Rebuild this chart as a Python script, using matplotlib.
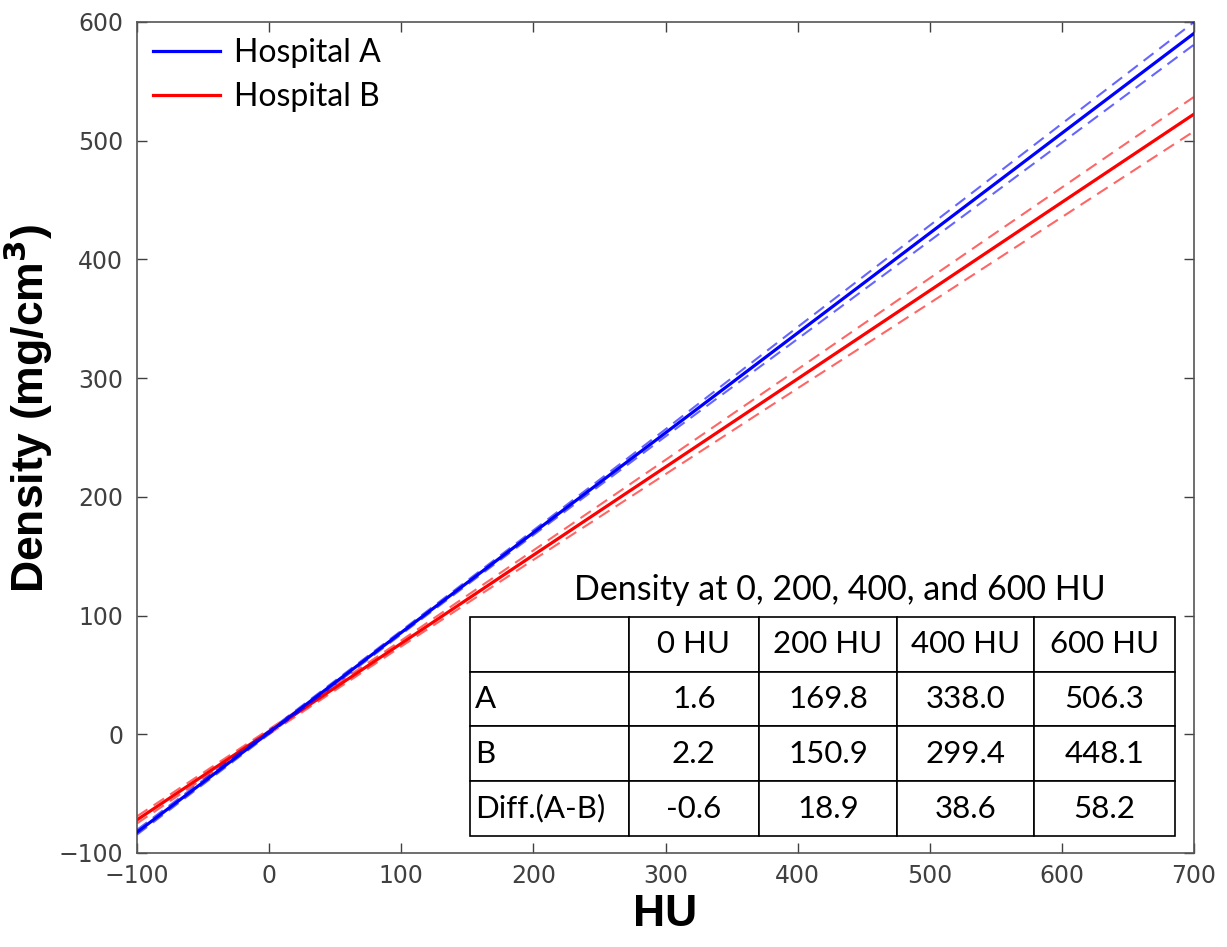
import matplotlib

matplotlib.use("Agg")
import matplotlib.pyplot as plt
import numpy as np

# fitted density lines and half-widths of the dashed bands
hu = [-100, 0, 100, 200, 300, 400, 500, 600, 700]
fit_a = [-82.5, 1.6, 85.7, 169.8, 253.9, 338.0, 422.1, 506.3, 590.4]
fit_b = [-72.1, 2.2, 76.5, 150.9, 225.1, 299.4, 373.7, 448.1, 522.4]
band_a = [2.0, 1.5, 1.5, 2.0, 3.0, 5.0, 6.5, 8.0, 9.5]
band_b = [3.0, 2.0, 2.5, 4.0, 6.0, 8.0, 10.5, 12.5, 14.5]

table_cols = ["", "0 HU", "200 HU", "400 HU", "600 HU"]
table_rows = ["A", "B", "Diff.(A-B)"]
table_vals = [
    ["1.6", "169.8", "338.0", "506.3"],
    ["2.2", "150.9", "299.4", "448.1"],
    ["-0.6", "18.9", "38.6", "58.2"],
]

fig = plt.figure(figsize=(12.27, 9.47), dpi=100)
ax = fig.add_axes([0.1117, 0.0993, 0.8614, 0.8775])

x = np.array(hu)
for fit, band, col, lab, z in [
    (fit_b, band_b, "#ff0000", "Hospital B", 2),
    (fit_a, band_a, "#0000ff", "Hospital A", 3),
]:
    fit = np.array(fit)
    band = np.array(band)
    ax.plot(x, fit, color=col, lw=2.3, label=lab, zorder=z + 0.5)
    for sgn in (1, -1):
        ax.plot(x, fit + sgn * band, color=col, lw=1.5, alpha=0.6,
                dashes=(6, 3.5), zorder=z)

ax.set_xlim(-100, 700)
ax.set_ylim(-100, 600)
ax.set_xticks(np.arange(-100, 701, 100))
ax.set_yticks(np.arange(-100, 601, 100))
ax.tick_params(direction="in", length=7, width=1, top=True, right=True,
               labelsize=17, labelcolor="#404040", color="#404040", pad=8)
ax.tick_params(axis="y", pad=10)
for sp in ax.spines.values():
    sp.set_color("#555555")
    sp.set_linewidth(1.2)

ax.set_xlabel("HU", fontsize=32, fontweight="bold", family="Liberation Sans",
              labelpad=4)
ax.set_ylabel("Density (mg/cm$^\\mathbf{3}$)", fontsize=32, fontweight="bold",
              family="Liberation Sans")
ax.yaxis.set_label_coords(-0.078, 0.535)

handles, labels = ax.get_legend_handles_labels()
ax.legend(handles[::-1], labels[::-1], loc="upper left", frameon=False,
          prop={"family": "Lato", "size": 23}, handlelength=2.1,
          handletextpad=0.45, borderaxespad=0.1, labelspacing=0.45)

tbl = ax.table(
    cellText=[[r] + v for r, v in zip(table_rows, table_vals)],
    colLabels=table_cols,
    colWidths=[0.2255, 0.184, 0.196, 0.194, 0.200],
    bbox=[0.315, 0.0205, 0.667, 0.2635],
    cellLoc="center",
)
tbl.auto_set_font_size(False)
for (r, c), cell in tbl.get_celld().items():
    cell.set_edgecolor("black")
    cell.set_linewidth(1.2)
    cell.set_facecolor("white")
    cell.get_text().set_fontfamily("Lato")
    cell.get_text().set_fontsize(22.5)
    if c == 0:
        cell.get_text().set_ha("left")
        cell.PAD = 0.03
tbl.set_zorder(5)

ax.text(0.665, 0.317, "Density at 0, 200, 400, and 600 HU", transform=ax.transAxes,
        ha="center", va="center", fontsize=24.5, family="Lato", zorder=6)

fig.savefig("out.png", dpi=100)
